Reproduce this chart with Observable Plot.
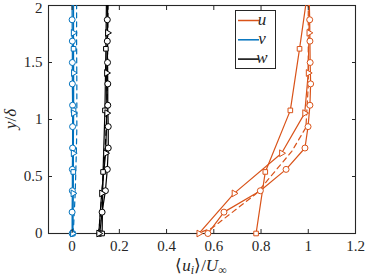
<!DOCTYPE html>
<html>
<head>
<meta charset="utf-8">
<script src="https://cdn.jsdelivr.net/npm/d3@7"></script>
<script src="https://cdn.jsdelivr.net/npm/@observablehq/plot@0.6"></script>
<style>
  html, body { margin: 0; padding: 0; background: #fff; }
  svg text { font-family: "Liberation Serif", "Times New Roman", serif !important; }
</style>
</head>
<body>
<div id="chart"></div>
<script>
// ---- tick values ----
const xTicks = [0, 0.2, 0.4, 0.6, 0.8, 1, 1.2];
const yTicks = [0, 0.5, 1, 1.5, 2];

// ---- profile heights (y/delta) ----
const yCircle = [0, 0.1875, 0.375, 0.5625, 0.75, 0.9375, 1.125, 1.3125, 1.5, 1.6875, 1.875, 2.0625];
const ySquare = [0, 0.54, 1.08, 1.62, 2.16];
const yTriangle = [0, 0.352, 0.704, 1.056, 1.408, 1.76, 2.112];
const yDashed = [0, 0.0, 0.05, 0.35, 0.72, 0.93, 1.3, 1.7, 2.1];

// ---- u component ----
const uCircle = [0.575, 0.643, 0.797, 0.906, 0.986, 0.999, 1.007, 1.01, 1.008, 1.007, 1.006, 1.004];
const uSquare = [0.779, 0.818, 0.924, 0.963, 1.0];
const uTriangle = [0.537, 0.686, 0.887, 0.985, 1.0, 1.003, 1.005];
const uDashed = [0.40, 0.53, 0.594, 0.78, 0.93, 0.99, 1.0, 1.0, 1.0];

// ---- v component ----
const vCircle = [0.0, 0.0, 0.001, 0.001, 0.002, 0.002, 0.002, 0.001, 0.001, 0.001, 0.0, 0.0];
const vSquare = [0.003, 0.005, 0.006, 0.006, 0.006];
const vTriangle = [0.002, 0.004, 0.005, 0.006, 0.006, 0.005, 0.005];
const vDashed = [0.003, 0.004, 0.006, 0.013, 0.018, 0.02, 0.02, 0.019, 0.019];

// ---- w component ----
const wCircle = [0.117, 0.127, 0.141, 0.149, 0.153, 0.153, 0.151, 0.151, 0.150, 0.149, 0.149, 0.149];
const wSquare = [0.127, 0.131, 0.139, 0.143, 0.146];
const wTriangle = [0.113, 0.125, 0.142, 0.147, 0.146, 0.150, 0.151];
const wDashed = [0.07, 0.11, 0.115, 0.126, 0.139, 0.145, 0.149, 0.151, 0.152];

const components = ["u", "v", "w"];
const colors = ["#D95319", "#0072BD", "#000000"];

const rows = (xs, ys) => xs.map((x, i) => ({x, y: ys[i]}));

const seriesSets = [
  {c: 0, list: [[uCircle, yCircle, "circle"], [uSquare, ySquare, "square"], [uTriangle, yTriangle, "triangle"], [uDashed, yDashed, null]]},
  {c: 1, list: [[vCircle, yCircle, "circle"], [vSquare, ySquare, "square"], [vTriangle, yTriangle, "triangle"], [vDashed, yDashed, null]]},
  {c: 2, list: [[wCircle, yCircle, "circle"], [wSquare, ySquare, "square"], [wTriangle, yTriangle, "triangle"], [wDashed, yDashed, null]]}
];

const axisColor = "#262626";
const marks = [];
marks.push(Plot.frame({stroke: axisColor, strokeWidth: 1.1}));

for (const set of seriesSets) {
  const color = colors[set.c];
  for (const [xs, ys, sym] of set.list) {
    const data = rows(xs, ys);
    marks.push(Plot.line(data, {
      x: "x", y: "y", stroke: color, strokeWidth: 1.2,
      strokeDasharray: sym ? null : "5,4", clip: true
    }));
  }
  for (const [xs, ys, sym] of set.list) {
    if (!sym) continue;
    const data = rows(xs, ys).filter(d => d.y <= 2);
    marks.push(Plot.dot(data, {
      x: "x", y: "y", symbol: sym,
      r: sym === "circle" ? 3 : sym === "square" ? 2.6 : 2.5,
      rotate: sym === "triangle" ? 90 : 0,
      fill: "white", stroke: color, strokeWidth: 1
    }));
  }
}

const fmt = d => String(Math.round(d * 10) / 10);
const blank = () => "";
const yTop = yTicks[yTicks.length - 1];
marks.push(
  Plot.axisX({anchor: "bottom", ticks: xTicks, tickSize: 0, tickPadding: 7, tickFormat: fmt, label: null, fill: axisColor}),
  Plot.axisY({anchor: "left", ticks: yTicks.filter(t => t !== yTop), tickSize: 0, tickPadding: 6, tickFormat: fmt, label: null, fill: axisColor}),
  Plot.axisY({anchor: "left", ticks: [yTop], tickSize: 0, tickPadding: 6, dy: 3, tickFormat: fmt, label: null, fill: axisColor}),
  Plot.axisX({anchor: "bottom", ticks: xTicks, tickSize: 4, dy: -4, tickFormat: blank, label: null, stroke: axisColor}),
  Plot.axisX({anchor: "top", ticks: xTicks, tickSize: 4, dy: 4, tickFormat: blank, label: null, stroke: axisColor}),
  Plot.axisY({anchor: "left", ticks: yTicks, tickSize: 4, dx: 4, tickFormat: blank, label: null, stroke: axisColor}),
  Plot.axisY({anchor: "right", ticks: yTicks, tickSize: 4, dx: -4, tickFormat: blank, label: null, stroke: axisColor})
);

const font = "'Liberation Serif', 'Times New Roman', serif";
const svg = Plot.plot({
  width: 366,
  height: 278,
  marginLeft: 48,
  marginRight: 11,
  marginTop: 5,
  marginBottom: 45,
  style: {fontFamily: font, fontSize: "15px", background: "white", color: axisColor},
  x: {domain: [-0.1, 1.2]},
  y: {domain: [0, 2]},
  marks
});
document.getElementById("chart").appendChild(svg);

const s = d3.select(svg);
s.selectAll("text").attr("font-family", font).style("font-family", font).style("font-size", "15px");

// ---- axis titles (real text) ----
const xl = s.append("text")
  .attr("x", 201).attr("y", 271)
  .attr("text-anchor", "middle")
  .attr("font-family", font).attr("font-size", 17).attr("fill", axisColor);
xl.append("tspan").text("⟨");
xl.append("tspan").attr("font-style", "italic").text("u");
xl.append("tspan").attr("font-style", "italic").attr("font-size", 12).attr("dy", 3).text("i");
xl.append("tspan").attr("dy", -3).text("⟩/");
xl.append("tspan").attr("font-style", "italic").text("U");
xl.append("tspan").attr("font-size", 12).attr("dy", 3).text("∞");

const yl = s.append("text")
  .attr("transform", "translate(16,119) rotate(-90)")
  .attr("text-anchor", "middle")
  .attr("font-family", font).attr("font-size", 17).attr("fill", axisColor);
yl.append("tspan").attr("font-style", "italic").text("y");
yl.append("tspan").text("/");
yl.append("tspan").attr("font-style", "italic").text("δ");

// ---- legend ----
const lg = s.append("g");
lg.append("rect").attr("x", 235.5).attr("y", 10.5).attr("width", 40).attr("height", 58)
  .attr("fill", "white").attr("stroke", axisColor).attr("stroke-width", 1);
components.forEach((name, i) => {
  const yy = 20.5 + i * 19.3;
  lg.append("line").attr("x1", 238).attr("x2", 259).attr("y1", yy).attr("y2", yy)
    .attr("stroke", colors[i]).attr("stroke-width", 1.5);
  lg.append("text").attr("x", 262).attr("y", yy + 4)
    .attr("font-family", font).attr("font-style", "italic").attr("font-size", 17)
    .attr("fill", axisColor).text(name);
});
</script>
</body>
</html>
